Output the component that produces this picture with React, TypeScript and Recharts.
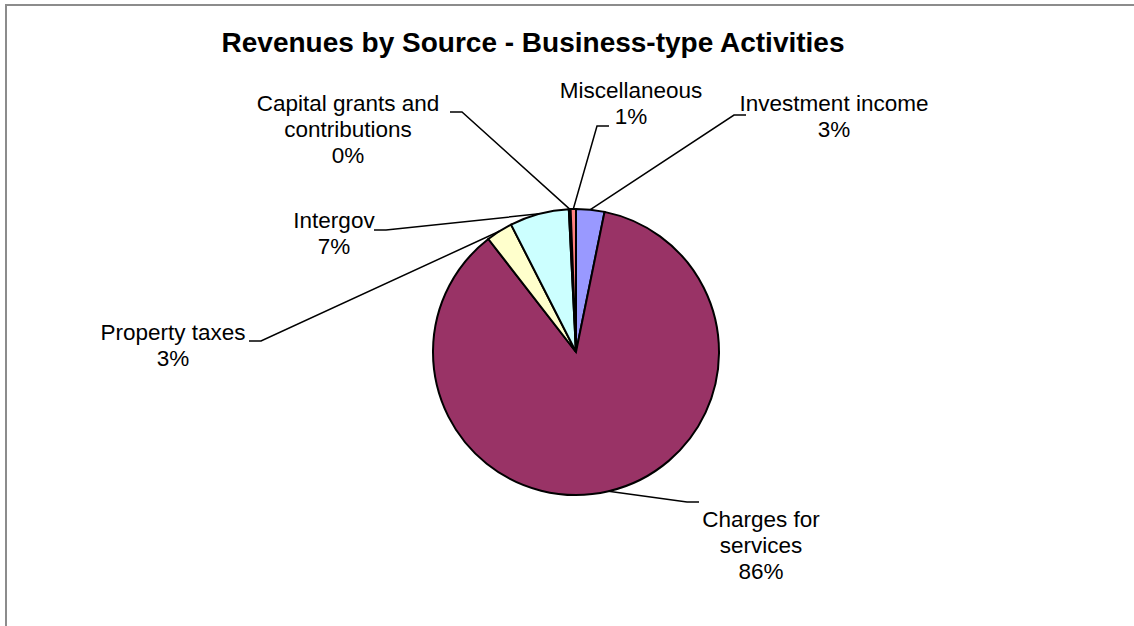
import { PieChart, Pie, Cell } from 'recharts'

// revenue sources, clockwise from 12 o'clock
const SOURCES = [
  'Investment income',
  'Charges for services',
  'Property taxes',
  'Intergov',
  'Capital grants and contributions',
  'Miscellaneous',
]
const SHARES = [3.2, 86.3, 3.0, 6.7, 0.2, 0.6]
const LABEL_LINES = [
  ['Investment income'],
  ['Charges for', 'services'],
  ['Property taxes'],
  ['Intergov'],
  ['Capital grants and', 'contributions'],
  ['Miscellaneous'],
]
const COLORS = ['#9999FF', '#993366', '#FFFFCC', '#CCFFFF', '#0066CC', '#FF8080']

// label placement relative to the pie centre (text centre + elbow of the leader line)
const LABEL_LAYOUT = [
  { tx: 258, ty: -249, ex: 170, ey: -237, side: -1 },
  { tx: 185, ty: 167, ex: 123, ey: 150, side: -1 },
  { tx: -403, ty: -20, ex: -327, ey: -11, side: 1 },
  { tx: -242, ty: -132, ex: -202, ey: -122, side: 1 },
  { tx: -228, ty: -249, ex: -126, ey: -240, side: 1 },
  { tx: 55, ty: -262, ex: 33, ey: -226, side: -1 },
]

const data = SOURCES.map((name, i) => ({ name, value: SHARES[i] }))

const FONT = '"Liberation Sans", Arial, sans-serif'
const LABEL_SIZE = 22.5
const LINE_GAP = 26
const RAD = Math.PI / 180

function renderLabel(props: any) {
  const { cx, cy, midAngle, outerRadius, percent, index } = props
  const lay = LABEL_LAYOUT[index]
  const px = cx + outerRadius * Math.cos(-midAngle * RAD)
  const py = cy + outerRadius * Math.sin(-midAngle * RAD)
  const ox = cx + lay.ex
  const oy = cy + lay.ey
  const ix = ox + lay.side * 12
  const lines = [...LABEL_LINES[index], `${Math.round(percent * 100)}%`]
  return (
    <g key={`lbl-${index}`}>
      <polyline
        points={`${ox},${oy} ${ix},${oy} ${px},${py}`}
        fill="none"
        stroke="#000"
        strokeWidth={1.5}
      />
      <text
        x={cx + lay.tx}
        y={cy + lay.ty}
        textAnchor="middle"
        dominantBaseline="central"
        fontFamily={FONT}
        fontSize={LABEL_SIZE}
        fill="#000"
      >
        {lines.map((t, k) => (
          <tspan key={k} x={cx + lay.tx} dy={k === 0 ? 0 : LINE_GAP}>
            {t}
          </tspan>
        ))}
      </text>
    </g>
  )
}

export default function App() {
  return (
    <div style={{ position: 'absolute', left: 0, top: 0, width: 1134, height: 626, background: '#fff', overflow: 'hidden' }}>
      <div
        style={{
          position: 'absolute',
          left: 5,
          top: 4,
          width: 1200,
          height: 700,
          borderTop: '2px solid #8c8c8c',
          borderLeft: '2px solid #8c8c8c',
        }}
      />
      <div
        style={{
          position: 'absolute',
          left: 0,
          top: 29,
          width: 1066,
          textAlign: 'center',
          fontFamily: FONT,
          fontWeight: 'bold',
          fontSize: 28,
          lineHeight: '28px',
          color: '#000',
        }}
      >
        Revenues by Source - Business-type Activities
      </div>
      <div style={{ position: 'absolute', left: 0, top: 0 }}>
        <PieChart width={1134} height={626}>
          <Pie
            data={data}
            dataKey="value"
            nameKey="name"
            cx={571}
            cy={347}
            outerRadius={143}
            startAngle={90}
            endAngle={-270}
            stroke="#000"
            strokeWidth={2}
            label={renderLabel}
            labelLine={false}
            isAnimationActive={false}
          >
            {data.map((d, i) => (
              <Cell key={d.name} fill={COLORS[i]} />
            ))}
          </Pie>
        </PieChart>
      </div>
    </div>
  )
}
